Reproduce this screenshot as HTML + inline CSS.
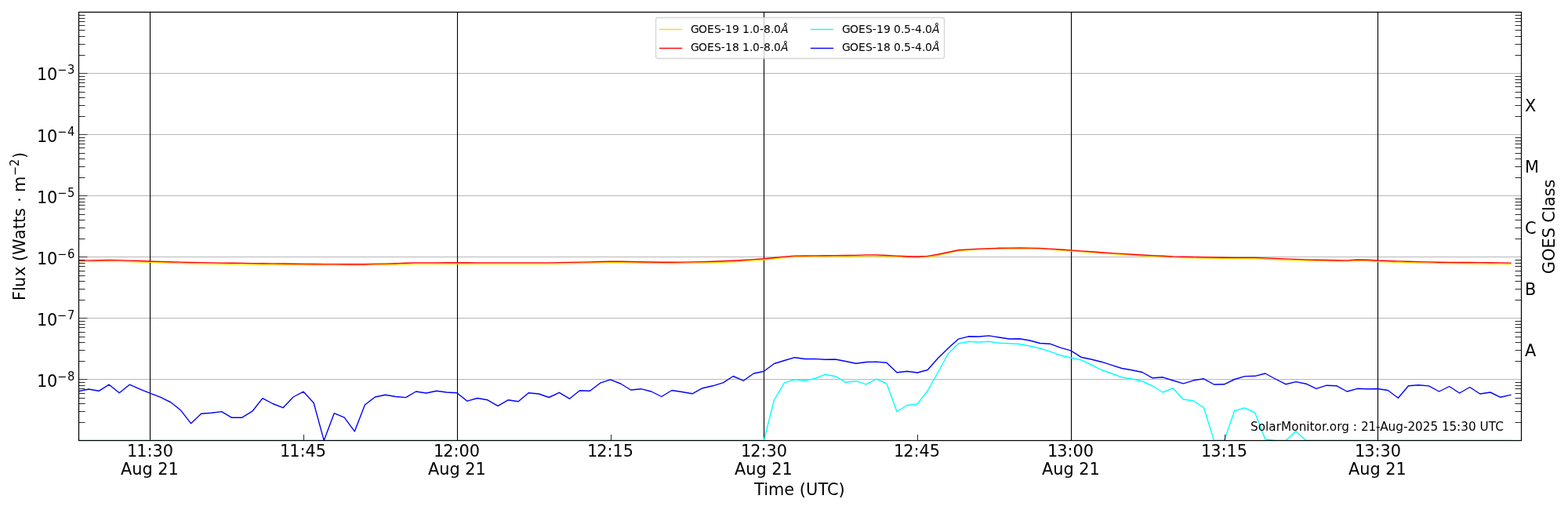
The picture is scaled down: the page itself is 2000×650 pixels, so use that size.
<!DOCTYPE html>
<html lang="en"><head><meta charset="utf-8"><title>GOES X-ray Flux</title>
<style>
html,body{margin:0;padding:0;background:#fff;}
body{width:2000px;height:650px;overflow:hidden;}
svg{display:block;}
text{font-family:"DejaVu Sans", "Liberation Sans", sans-serif;fill:#000;}
.t{font-size:20.83px;}
.s{font-size:14.58px;}
.l{font-size:13.89px;}
.n{font-size:15.28px;}
.sc{font-family:"DejaVu Sans Condensed","DejaVu Sans","Liberation Sans",sans-serif;font-size:16.3px;}
.i{font-style:italic;}
</style></head><body>
<svg width="2000" height="650" viewBox="0 0 2000 650">
<rect x="0" y="0" width="2000" height="650" fill="#ffffff"/>
<defs><clipPath id="ax"><rect x="100" y="15" width="1840" height="546.4"/></clipPath></defs>
<g fill="#b0b0b0">
<rect x="100" y="483.05" width="1840" height="0.9"/>
<rect x="100" y="405.05" width="1840" height="0.9"/>
<rect x="100" y="327.05" width="1840" height="0.9"/>
<rect x="100" y="249.05" width="1840" height="0.9"/>
<rect x="100" y="171.05" width="1840" height="0.9"/>
<rect x="100" y="93.05" width="1840" height="0.9"/>
</g>
<g fill="#000000">
<rect x="190.945" y="15" width="1.11" height="546.4"/>
<rect x="582.945" y="15" width="1.11" height="546.4"/>
<rect x="973.945" y="15" width="1.11" height="546.4"/>
<rect x="1365.945" y="15" width="1.11" height="546.4"/>
<rect x="1756.945" y="15" width="1.11" height="546.4"/>
</g>
<g clip-path="url(#ax)" fill="none" stroke-width="1.39" stroke-linejoin="round" stroke-linecap="square">
<path stroke="#ffd700" d="M100 333.55 L113.05 333.37 L126.1 333.17 L139.15 332.98 L152.2 333.13 L165.25 333.55 L178.3 333.97 L191.35 334.4 L204.4 334.8 L217.45 335.21 L230.5 335.61 L243.55 335.89 L256.6 336.11 L269.65 336.33 L282.7 336.53 L295.74 336.7 L308.79 336.86 L321.84 337.02 L334.89 337.19 L347.94 337.34 L360.99 337.49 L374.04 337.65 L387.09 337.8 L400.14 337.95 L413.19 338.03 L426.24 338.1 L439.29 338.18 L452.34 338.26 L465.39 338.17 L478.44 337.87 L491.49 337.57 L504.54 337.26 L517.59 336.75 L530.64 336.34 L543.69 336.31 L556.74 336.27 L569.79 336.24 L582.84 336.2 L595.89 336.23 L608.94 336.27 L621.99 336.3 L635.04 336.34 L648.09 336.35 L661.13 336.35 L674.18 336.35 L687.23 336.35 L700.28 336.34 L713.33 336.08 L726.38 335.82 L739.43 335.56 L752.48 335.27 L765.53 334.96 L778.58 334.64 L791.63 334.73 L804.68 334.99 L817.73 335.25 L830.78 335.46 L843.83 335.66 L856.88 335.68 L869.93 335.55 L882.98 335.38 L896.03 335.05 L909.08 334.72 L922.13 334.21 L935.18 333.69 L948.23 332.95 L961.28 332.07 L974.33 331.19 L987.38 329.81 L1000.43 328.44 L1013.48 327.34 L1026.52 327.2 L1039.57 327.07 L1052.62 326.94 L1065.67 326.84 L1078.72 326.77 L1091.77 326.63 L1104.82 326.07 L1117.87 326.06 L1130.92 326.69 L1143.97 327.4 L1157.02 327.95 L1170.07 328.32 L1183.12 327.63 L1196.17 325.46 L1209.22 322.61 L1222.27 319.69 L1235.32 318.81 L1248.37 317.96 L1261.42 317.51 L1274.47 317.14 L1287.52 316.94 L1300.57 316.76 L1313.62 317.03 L1326.67 317.3 L1339.72 318.04 L1352.77 318.94 L1365.82 319.85 L1378.87 320.84 L1391.91 321.83 L1404.96 322.82 L1418.01 323.67 L1431.06 324.53 L1444.11 325.39 L1457.16 326.15 L1470.21 326.83 L1483.26 327.5 L1496.31 328.14 L1509.36 328.46 L1522.41 328.78 L1535.46 329.09 L1548.51 329.33 L1561.56 329.54 L1574.61 329.66 L1587.66 329.64 L1600.71 329.65 L1613.76 330.19 L1626.81 330.73 L1639.86 331.27 L1652.91 331.77 L1665.96 332.25 L1679.01 332.65 L1692.06 332.89 L1705.11 333.13 L1718.16 333.27 L1731.21 332.43 L1744.26 332.69 L1757.3 333.49 L1770.35 333.91 L1783.4 334.33 L1796.45 334.73 L1809.5 335.04 L1822.55 335.34 L1835.6 335.65 L1848.65 335.81 L1861.7 335.91 L1874.75 336.01 L1887.8 336.11 L1900.85 336.21 L1913.9 336.38 L1926.95 336.55"/>
<path stroke="#ff0000" d="M100 332.1 L113.05 331.92 L126.1 331.73 L139.15 331.54 L152.2 331.68 L165.25 332.1 L178.3 332.52 L191.35 332.95 L204.4 333.35 L217.45 333.76 L230.5 334.16 L243.55 334.44 L256.6 334.66 L269.65 334.88 L282.7 335.08 L295.74 335.25 L308.79 335.41 L321.84 335.57 L334.89 335.74 L347.94 335.89 L360.99 336.04 L374.04 336.2 L387.09 336.35 L400.14 336.5 L413.19 336.58 L426.24 336.65 L439.29 336.73 L452.34 336.81 L465.39 336.72 L478.44 336.42 L491.49 336.12 L504.54 335.81 L517.59 335.3 L530.64 334.89 L543.69 334.86 L556.74 334.82 L569.79 334.79 L582.84 334.75 L595.89 334.78 L608.94 334.82 L621.99 334.85 L635.04 334.89 L648.09 334.9 L661.13 334.9 L674.18 334.9 L687.23 334.9 L700.28 334.89 L713.33 334.63 L726.38 334.37 L739.43 334.11 L752.48 333.82 L765.53 333.51 L778.58 333.19 L791.63 333.28 L804.68 333.54 L817.73 333.8 L830.78 334.01 L843.83 334.21 L856.88 334.23 L869.93 334.1 L882.98 333.93 L896.03 333.6 L909.08 333.27 L922.13 332.76 L935.18 332.24 L948.23 331.51 L961.28 330.66 L974.33 329.81 L987.38 328.49 L1000.43 327.17 L1013.48 326.1 L1026.52 325.97 L1039.57 325.85 L1052.62 325.72 L1065.67 325.62 L1078.72 325.56 L1091.77 325.43 L1104.82 324.88 L1117.87 324.87 L1130.92 325.48 L1143.97 326.16 L1157.02 326.7 L1170.07 327.05 L1183.12 326.38 L1196.17 324.29 L1209.22 321.55 L1222.27 318.73 L1235.32 317.89 L1248.37 317.07 L1261.42 316.64 L1274.47 316.28 L1287.52 316.09 L1300.57 315.91 L1313.62 316.17 L1326.67 316.43 L1339.72 317.15 L1352.77 318.02 L1365.82 318.89 L1378.87 319.84 L1391.91 320.79 L1404.96 321.75 L1418.01 322.57 L1431.06 323.4 L1444.11 324.23 L1457.16 324.96 L1470.21 325.61 L1483.26 326.26 L1496.31 326.88 L1509.36 327.19 L1522.41 327.49 L1535.46 327.79 L1548.51 328.03 L1561.56 328.22 L1574.61 328.34 L1587.66 328.32 L1600.71 328.33 L1613.76 328.85 L1626.81 329.37 L1639.86 329.89 L1652.91 330.38 L1665.96 330.83 L1679.01 331.22 L1692.06 331.45 L1705.11 331.69 L1718.16 331.82 L1731.21 331.01 L1744.26 331.26 L1757.3 332.04 L1770.35 332.46 L1783.4 332.88 L1796.45 333.28 L1809.5 333.59 L1822.55 333.89 L1835.6 334.2 L1848.65 334.36 L1861.7 334.46 L1874.75 334.56 L1887.8 334.66 L1900.85 334.76 L1913.9 334.93 L1926.95 335.1"/>
<path stroke="#00ffff" d="M100 561.4 L113.05 561.4 L126.1 561.4 L139.15 561.4 L152.2 561.4 L165.25 561.4 L178.3 561.4 L191.35 561.4 L204.4 561.4 L217.45 561.4 L230.5 561.4 L243.55 561.4 L256.6 561.4 L269.65 561.4 L282.7 561.4 L295.74 561.4 L308.79 561.4 L321.84 561.4 L334.89 561.4 L347.94 561.4 L360.99 561.4 L374.04 561.4 L387.09 561.4 L400.14 561.4 L413.19 561.4 L426.24 561.4 L439.29 561.4 L452.34 561.4 L465.39 561.4 L478.44 561.4 L491.49 561.4 L504.54 561.4 L517.59 561.4 L530.64 561.4 L543.69 561.4 L556.74 561.4 L569.79 561.4 L582.84 561.4 L595.89 561.4 L608.94 561.4 L621.99 561.4 L635.04 561.4 L648.09 561.4 L661.13 561.4 L674.18 561.4 L687.23 561.4 L700.28 561.4 L713.33 561.4 L726.38 561.4 L739.43 561.4 L752.48 561.4 L765.53 561.4 L778.58 561.4 L791.63 561.4 L804.68 561.4 L817.73 561.4 L830.78 561.4 L843.83 561.4 L856.88 561.4 L869.93 561.4 L882.98 561.4 L896.03 561.4 L909.08 561.4 L922.13 561.4 L935.18 561.4 L948.23 561.4 L961.28 561.4 L974.33 561.4 L987.38 510 L1000.43 487.8 L1013.48 483.8 L1026.52 485 L1039.57 482.5 L1052.62 477.2 L1065.67 479.7 L1078.72 487.3 L1091.77 485.7 L1104.82 489.8 L1117.87 483 L1130.92 488.8 L1143.97 524.5 L1157.02 516.5 L1170.07 515 L1183.12 498.2 L1196.17 475 L1209.22 451 L1222.27 438 L1235.32 435.3 L1248.37 436 L1261.42 435.3 L1274.47 437.2 L1287.52 437.7 L1300.57 438.5 L1313.62 441 L1326.67 444 L1339.72 448.2 L1352.77 453 L1365.82 456 L1378.87 458.7 L1391.91 465 L1404.96 471.5 L1418.01 476 L1431.06 481 L1444.11 483 L1457.16 486 L1470.21 492 L1483.26 500 L1496.31 494.7 L1509.36 509 L1522.41 510.7 L1535.46 519.8 L1548.51 561.4 L1561.56 561.4 L1574.61 523.5 L1587.66 519.8 L1600.71 526 L1613.76 559.8 L1626.81 561.4 L1639.86 561.4 L1652.91 549.8 L1665.96 561.4 L1679.01 561.4 L1692.06 561.4 L1705.11 561.4 L1718.16 561.4 L1731.21 561.4 L1744.26 561.4 L1757.3 561.4 L1770.35 561.4 L1783.4 561.4 L1796.45 561.4 L1809.5 561.4 L1822.55 561.4 L1835.6 561.4 L1848.65 561.4 L1861.7 561.4 L1874.75 561.4 L1887.8 561.4 L1900.85 561.4 L1913.9 561.4 L1926.95 561.4"/>
<path stroke="#0000ff" d="M100 498.8 L113.05 496 L126.1 498.3 L139.15 490.2 L152.2 500.8 L165.25 490.2 L178.3 495.8 L191.35 501.1 L204.4 506.2 L217.45 512.5 L230.5 522.8 L243.55 539.7 L256.6 527.3 L269.65 526.3 L282.7 524.6 L295.74 532.3 L308.79 532.2 L321.84 524.2 L334.89 507.6 L347.94 514.5 L360.99 519.7 L374.04 506 L387.09 499.2 L400.14 513.5 L413.19 561.4 L426.24 526.7 L439.29 532.2 L452.34 549.8 L465.39 516 L478.44 506 L491.49 503.3 L504.54 505.5 L517.59 506.6 L530.64 499 L543.69 501 L556.74 498.2 L569.79 500 L582.84 500.8 L595.89 511.2 L608.94 507.5 L621.99 509.8 L635.04 517.3 L648.09 509.8 L661.13 511.7 L674.18 500.7 L687.23 502 L700.28 506.5 L713.33 500.3 L726.38 508.2 L739.43 497.8 L752.48 498.3 L765.53 488.2 L778.58 483.8 L791.63 489 L804.68 497 L817.73 495.7 L830.78 499 L843.83 505.5 L856.88 497.5 L869.93 499.5 L882.98 501.8 L896.03 494.7 L909.08 491.8 L922.13 487.8 L935.18 479.5 L948.23 485.2 L961.28 476 L974.33 473.3 L987.38 463.5 L1000.43 459.5 L1013.48 455.7 L1026.52 457.5 L1039.57 457.4 L1052.62 458.2 L1065.67 458 L1078.72 460.5 L1091.77 463.2 L1104.82 461.5 L1117.87 461.1 L1130.92 462.2 L1143.97 474.7 L1157.02 473.2 L1170.07 475 L1183.12 471.5 L1196.17 456.8 L1209.22 444 L1222.27 432.2 L1235.32 428.8 L1248.37 429 L1261.42 427.9 L1274.47 430 L1287.52 432 L1300.57 431.7 L1313.62 434 L1326.67 437.5 L1339.72 438.3 L1352.77 443.2 L1365.82 446.8 L1378.87 455.2 L1391.91 458 L1404.96 461.2 L1418.01 465.3 L1431.06 469.5 L1444.11 471.8 L1457.16 474.5 L1470.21 481.8 L1483.26 480.8 L1496.31 485 L1509.36 488.8 L1522.41 484.8 L1535.46 482.8 L1548.51 490 L1561.56 489.8 L1574.61 483.5 L1587.66 479.6 L1600.71 479.3 L1613.76 476 L1626.81 483 L1639.86 489.7 L1652.91 486.6 L1665.96 489.2 L1679.01 495.3 L1692.06 491.2 L1705.11 491.8 L1718.16 499 L1731.21 495.3 L1744.26 495.8 L1757.3 495.5 L1770.35 497.5 L1783.4 507.3 L1796.45 491.8 L1809.5 490.8 L1822.55 491.9 L1835.6 499 L1848.65 492.5 L1861.7 501 L1874.75 493.5 L1887.8 502 L1900.85 500 L1913.9 506.3 L1926.95 503.3"/>
</g>
<g fill="#000000">
<rect x="100.5" y="538.083" width="8" height="0.833"/>
<rect x="1932.5" y="538.083" width="8" height="0.833"/>
<rect x="100.5" y="524.083" width="8" height="0.833"/>
<rect x="1932.5" y="524.083" width="8" height="0.833"/>
<rect x="100.5" y="514.083" width="8" height="0.833"/>
<rect x="1932.5" y="514.083" width="8" height="0.833"/>
<rect x="100.5" y="507.084" width="8" height="0.833"/>
<rect x="1932.5" y="507.084" width="8" height="0.833"/>
<rect x="100.5" y="501.084" width="8" height="0.833"/>
<rect x="1932.5" y="501.084" width="8" height="0.833"/>
<rect x="100.5" y="495.084" width="8" height="0.833"/>
<rect x="1932.5" y="495.084" width="8" height="0.833"/>
<rect x="100.5" y="491.084" width="8" height="0.833"/>
<rect x="1932.5" y="491.084" width="8" height="0.833"/>
<rect x="100.5" y="487.084" width="8" height="0.833"/>
<rect x="1932.5" y="487.084" width="8" height="0.833"/>
<rect x="100.5" y="483.15" width="11" height="0.7"/>
<rect x="100.5" y="460.084" width="8" height="0.833"/>
<rect x="1932.5" y="460.084" width="8" height="0.833"/>
<rect x="100.5" y="446.084" width="8" height="0.833"/>
<rect x="1932.5" y="446.084" width="8" height="0.833"/>
<rect x="100.5" y="436.084" width="8" height="0.833"/>
<rect x="1932.5" y="436.084" width="8" height="0.833"/>
<rect x="100.5" y="429.084" width="8" height="0.833"/>
<rect x="1932.5" y="429.084" width="8" height="0.833"/>
<rect x="100.5" y="423.084" width="8" height="0.833"/>
<rect x="1932.5" y="423.084" width="8" height="0.833"/>
<rect x="100.5" y="417.084" width="8" height="0.833"/>
<rect x="1932.5" y="417.084" width="8" height="0.833"/>
<rect x="100.5" y="413.084" width="8" height="0.833"/>
<rect x="1932.5" y="413.084" width="8" height="0.833"/>
<rect x="100.5" y="409.084" width="8" height="0.833"/>
<rect x="1932.5" y="409.084" width="8" height="0.833"/>
<rect x="100.5" y="405.15" width="11" height="0.7"/>
<rect x="100.5" y="382.084" width="8" height="0.833"/>
<rect x="1932.5" y="382.084" width="8" height="0.833"/>
<rect x="100.5" y="368.084" width="8" height="0.833"/>
<rect x="1932.5" y="368.084" width="8" height="0.833"/>
<rect x="100.5" y="358.084" width="8" height="0.833"/>
<rect x="1932.5" y="358.084" width="8" height="0.833"/>
<rect x="100.5" y="351.084" width="8" height="0.833"/>
<rect x="1932.5" y="351.084" width="8" height="0.833"/>
<rect x="100.5" y="345.084" width="8" height="0.833"/>
<rect x="1932.5" y="345.084" width="8" height="0.833"/>
<rect x="100.5" y="339.084" width="8" height="0.833"/>
<rect x="1932.5" y="339.084" width="8" height="0.833"/>
<rect x="100.5" y="335.084" width="8" height="0.833"/>
<rect x="1932.5" y="335.084" width="8" height="0.833"/>
<rect x="100.5" y="331.084" width="8" height="0.833"/>
<rect x="1932.5" y="331.084" width="8" height="0.833"/>
<rect x="100.5" y="327.15" width="11" height="0.7"/>
<rect x="100.5" y="304.084" width="8" height="0.833"/>
<rect x="1932.5" y="304.084" width="8" height="0.833"/>
<rect x="100.5" y="290.084" width="8" height="0.833"/>
<rect x="1932.5" y="290.084" width="8" height="0.833"/>
<rect x="100.5" y="280.084" width="8" height="0.833"/>
<rect x="1932.5" y="280.084" width="8" height="0.833"/>
<rect x="100.5" y="273.084" width="8" height="0.833"/>
<rect x="1932.5" y="273.084" width="8" height="0.833"/>
<rect x="100.5" y="266.084" width="8" height="0.833"/>
<rect x="1932.5" y="266.084" width="8" height="0.833"/>
<rect x="100.5" y="261.084" width="8" height="0.833"/>
<rect x="1932.5" y="261.084" width="8" height="0.833"/>
<rect x="100.5" y="257.084" width="8" height="0.833"/>
<rect x="1932.5" y="257.084" width="8" height="0.833"/>
<rect x="100.5" y="253.083" width="8" height="0.833"/>
<rect x="1932.5" y="253.083" width="8" height="0.833"/>
<rect x="100.5" y="249.15" width="11" height="0.7"/>
<rect x="100.5" y="226.083" width="8" height="0.833"/>
<rect x="1932.5" y="226.083" width="8" height="0.833"/>
<rect x="100.5" y="212.083" width="8" height="0.833"/>
<rect x="1932.5" y="212.083" width="8" height="0.833"/>
<rect x="100.5" y="202.083" width="8" height="0.833"/>
<rect x="1932.5" y="202.083" width="8" height="0.833"/>
<rect x="100.5" y="195.083" width="8" height="0.833"/>
<rect x="1932.5" y="195.083" width="8" height="0.833"/>
<rect x="100.5" y="188.083" width="8" height="0.833"/>
<rect x="1932.5" y="188.083" width="8" height="0.833"/>
<rect x="100.5" y="183.083" width="8" height="0.833"/>
<rect x="1932.5" y="183.083" width="8" height="0.833"/>
<rect x="100.5" y="179.083" width="8" height="0.833"/>
<rect x="1932.5" y="179.083" width="8" height="0.833"/>
<rect x="100.5" y="175.083" width="8" height="0.833"/>
<rect x="1932.5" y="175.083" width="8" height="0.833"/>
<rect x="100.5" y="171.15" width="11" height="0.7"/>
<rect x="100.5" y="148.083" width="8" height="0.833"/>
<rect x="1932.5" y="148.083" width="8" height="0.833"/>
<rect x="100.5" y="134.083" width="8" height="0.833"/>
<rect x="1932.5" y="134.083" width="8" height="0.833"/>
<rect x="100.5" y="124.084" width="8" height="0.833"/>
<rect x="1932.5" y="124.084" width="8" height="0.833"/>
<rect x="100.5" y="117.084" width="8" height="0.833"/>
<rect x="1932.5" y="117.084" width="8" height="0.833"/>
<rect x="100.5" y="110.084" width="8" height="0.833"/>
<rect x="1932.5" y="110.084" width="8" height="0.833"/>
<rect x="100.5" y="105.084" width="8" height="0.833"/>
<rect x="1932.5" y="105.084" width="8" height="0.833"/>
<rect x="100.5" y="101.084" width="8" height="0.833"/>
<rect x="1932.5" y="101.084" width="8" height="0.833"/>
<rect x="100.5" y="97.084" width="8" height="0.833"/>
<rect x="1932.5" y="97.084" width="8" height="0.833"/>
<rect x="100.5" y="93.15" width="11" height="0.7"/>
<rect x="100.5" y="70.084" width="8" height="0.833"/>
<rect x="1932.5" y="70.084" width="8" height="0.833"/>
<rect x="100.5" y="56.084" width="8" height="0.833"/>
<rect x="1932.5" y="56.084" width="8" height="0.833"/>
<rect x="100.5" y="46.084" width="8" height="0.833"/>
<rect x="1932.5" y="46.084" width="8" height="0.833"/>
<rect x="100.5" y="38.084" width="8" height="0.833"/>
<rect x="1932.5" y="38.084" width="8" height="0.833"/>
<rect x="100.5" y="32.084" width="8" height="0.833"/>
<rect x="1932.5" y="32.084" width="8" height="0.833"/>
<rect x="100.5" y="27.084" width="8" height="0.833"/>
<rect x="1932.5" y="27.084" width="8" height="0.833"/>
<rect x="100.5" y="23.084" width="8" height="0.833"/>
<rect x="1932.5" y="23.084" width="8" height="0.833"/>
<rect x="100.5" y="19.084" width="8" height="0.833"/>
<rect x="1932.5" y="19.084" width="8" height="0.833"/>
<rect x="387.084" y="553.9" width="0.833" height="8"/>
<rect x="779.083" y="553.9" width="0.833" height="8"/>
<rect x="1170.083" y="553.9" width="0.833" height="8"/>
<rect x="1562.083" y="553.9" width="0.833" height="8"/>
</g>
<rect x="100.5" y="15.5" width="1840" height="546" fill="none" stroke="#000000" stroke-width="1.22"/>
<rect x="836.5" y="22.5" width="368" height="52" rx="2.8" ry="2.8" fill="#ffffff" fill-opacity="0.8" stroke="#cccccc" stroke-opacity="0.8" stroke-width="1.39"/>
<line x1="841.5" y1="37.5" x2="869.5" y2="37.5" stroke="#ffd700" stroke-width="1.39" stroke-linecap="square"/>
<line x1="841.5" y1="61.5" x2="869.5" y2="61.5" stroke="#ff0000" stroke-width="1.39" stroke-linecap="square"/>
<line x1="1034.5" y1="37.5" x2="1062.5" y2="37.5" stroke="#00ffff" stroke-width="1.39" stroke-linecap="square"/>
<line x1="1034.5" y1="61.5" x2="1062.5" y2="61.5" stroke="#0000ff" stroke-width="1.39" stroke-linecap="square"/>
<text class="t" x="46.9 59.9 73.041 85.884" y="492.5 492.5 484.55 484.55">10<tspan class="s">−</tspan><tspan class="sc">8</tspan></text>
<text class="t" x="46.9 59.9 72.666 85.884" y="414.5 414.5 406.55 406.55">10<tspan class="s">−</tspan><tspan class="sc">7</tspan></text>
<text class="t" x="46.9 59.9 73.041 85.884" y="336.5 336.5 328.55 328.55">10<tspan class="s">−</tspan><tspan class="sc">6</tspan></text>
<text class="t" x="46.9 59.9 72.916 85.884" y="258.5 258.5 250.55 250.55">10<tspan class="s">−</tspan><tspan class="sc">5</tspan></text>
<text class="t" x="46.9 59.9 72.916 85.884" y="180.5 180.5 172.55 172.55">10<tspan class="s">−</tspan><tspan class="sc">4</tspan></text>
<text class="t" x="46.9 59.9 72.916 85.884" y="101.5 101.5 93.55 93.55">10<tspan class="s">−</tspan><tspan class="sc">3</tspan></text>
<text class="t" transform="translate(32.2 382.9) rotate(-90)" x="0 11.969 17.016 30.953 43.281 49.906 58.031 77.797 90.812 98.969 106.891 117.234 125.109 130.484 137.859 158.656 170.875 180.953" y="0 0 0 0 0 0 0 0 0 0 0 0 0 0 0 -8.7 -8.7 0">Flux (Watts ⋅ m<tspan class="s">−</tspan><tspan class="sc">2</tspan>)</text>
<text class="t" x="161.932 174.182 187.432 194.448 207.698" y="581.5">11:30</text>
<text class="t" x="153.95 168.184 181.387 194.856 201.231 214.481" y="604.5">Aug 21</text>
<text class="t" x="552.921 565.171 578.421 585.437 598.687" y="581.5">12:00</text>
<text class="t" x="545.939 560.173 573.376 586.345 593.22 606.47" y="604.5">Aug 21</text>
<text class="t" x="944.91 957.16 970.41 977.426 990.676" y="581.5">12:30</text>
<text class="t" x="936.928 951.162 964.615 977.834 984.209 997.459" y="604.5">Aug 21</text>
<text class="t" x="1335.9 1348.15 1361.4 1368.416 1381.666" y="581.5">13:00</text>
<text class="t" x="1328.918 1343.152 1356.605 1369.324 1376.199 1389.449" y="604.5">Aug 21</text>
<text class="t" x="1727.889 1740.139 1753.389 1760.405 1773.655" y="581.5">13:30</text>
<text class="t" x="1719.907 1734.141 1747.594 1760.813 1767.188 1780.438" y="604.5">Aug 21</text>
<text class="t" x="357.076 369.326 382.576 389.592 402.842" y="581.5">11:45</text>
<text class="t" x="749.066 761.316 774.566 781.582 794.832" y="581.5">12:15</text>
<text class="t" x="1140.055 1152.305 1165.555 1172.571 1185.821" y="581.5">12:45</text>
<text class="t" x="1532.044 1544.294 1557.544 1564.56 1577.81" y="581.5">13:15</text>
<text class="t" x="962.055 974.258 980.039 1000.336 1013.148 1019.758 1027.883 1043.383 1054.883 1069.43" y="630.5">Time (UTC)</text>
<text class="t" x="1945.1" y="453.5">A</text>
<text class="t" x="1945.1" y="375.5">B</text>
<text class="t" x="1945.1" y="297.5">C</text>
<text class="t" x="1945.1" y="219.5">M</text>
<text class="t" x="1945.1" y="141.5">X</text>
<text class="t" transform="translate(1982.7 288.75) rotate(-90)" x="-60.422 -44.047 -27.641 -14.484 -1.266 5.109 19.656 25.688 38.453 49.297" y="0">GOES Class</text>
<text class="n" x="1594.9 1604.838 1613.916 1618.166 1627.775 1634.041 1647.213 1656.806 1666.228 1670.478 1676.463 1686.041 1690.916 1695.775 1705.369 1711.369 1720.556 1725.666 1730.556 1735.916 1745.619 1755.088 1760.26 1770.447 1780.369 1790.072 1795.572 1805.041 1814.744 1824.463 1834.166 1838.9 1848.494 1858.072 1863.338 1873.056 1883.025 1887.619 1898.791 1907.228" y="548.5">SolarMonitor.org : 21-Aug-2025 15:30 UTC</text>
<text class="l" x="881.1 891.1 902.022 911.037 919.834 925.1 933.928 942.506 946.912 955.991 959.897 968.975 973.991 983.069 986.975 996.069" y="41.65">GOES-19 1.0-8.0<tspan class="l i">Å</tspan></text>
<text class="l" x="881.1 891.1 902.022 911.037 919.834 925.1 933.928 942.506 946.912 955.991 959.897 968.975 973.991 983.069 986.975 996.069" y="64.65">GOES-18 1.0-8.0<tspan class="l i">Å</tspan></text>
<text class="l" x="1074 1084 1094.922 1103.938 1112.734 1118 1127.078 1135.406 1140.062 1148.891 1153.047 1161.875 1166.891 1175.969 1179.875 1188.969" y="41.65">GOES-19 0.5-4.0<tspan class="l i">Å</tspan></text>
<text class="l" x="1074 1084 1094.922 1103.938 1112.734 1118 1127.078 1135.406 1140.062 1148.891 1153.047 1161.875 1166.891 1175.969 1179.875 1188.969" y="64.65">GOES-18 0.5-4.0<tspan class="l i">Å</tspan></text>
</svg>
</body></html>
